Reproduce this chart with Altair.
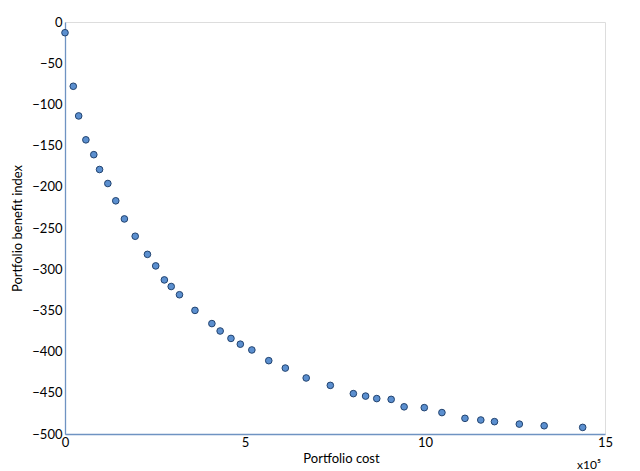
import altair as alt
import pandas as pd

cost = [0.0, 0.23, 0.38, 0.58, 0.80, 0.96, 1.19, 1.41, 1.65, 1.95,
        2.29, 2.52, 2.76, 2.95, 3.18, 3.61, 4.08, 4.31, 4.61, 4.87,
        5.19, 5.66, 6.12, 6.70, 7.37, 8.01, 8.35, 8.66, 9.06, 9.42,
        9.98, 10.47, 11.11, 11.55, 11.93, 12.62, 13.31, 14.38]
benefit = [-13, -78, -114, -143, -161, -179, -196, -217, -239, -260,
           -282, -296, -313, -321, -331, -350, -366, -375, -384, -391,
           -398, -411, -420, -432, -441, -451, -454, -457, -458, -467,
           -468, -474, -481, -483, -485, -488, -490, -492]
x_ticks = [0, 5, 10, 15]
y_ticks = [0, -50, -100, -150, -200, -250, -300, -350, -400, -450, -500]

df = pd.DataFrame({"cost": cost, "benefit": benefit})

FONT = "Lato"
AXIS_COLOR = "#6f93c2"

points = alt.Chart(df).mark_circle(
    size=44, color="#5b8fcf", stroke="#22436f", strokeWidth=1, opacity=1
).encode(
    x=alt.X("cost:Q", scale=alt.Scale(domain=[0, 15], nice=False),
            axis=alt.Axis(values=x_ticks, title="Portfolio cost", grid=False,
                          ticks=False, domainColor=AXIS_COLOR, domainWidth=1.3,
                          labelFont=FONT, labelFontSize=13, labelColor="#000",
                          labelPadding=2, titleFont=FONT, titleFontSize=13,
                          titleFontWeight="normal", titleColor="#000",
                          titlePadding=3, titleX=276, titleAlign="center",
                          labelFlush=False)),
    y=alt.Y("benefit:Q", scale=alt.Scale(domain=[-500, 0], nice=False),
            axis=alt.Axis(values=y_ticks, title="Portfolio benefit index",
                          grid=False, ticks=False, domainColor=AXIS_COLOR,
                          domainWidth=1.3, labelFont=FONT, labelFontSize=13,
                          labelColor="#000", labelPadding=3, titleFont=FONT,
                          titleFontSize=13, titleFontWeight="normal",
                          titleColor="#000", titlePadding=7,
                          labelFlush=False)),
)

mult = alt.Chart(pd.DataFrame({"t": ["x10\u2075"]})).mark_text(
    font=FONT, fontSize=12, color="#000", align="center", baseline="middle"
).encode(text="t:N", x=alt.value(524), y=alt.value(443))

chart = (points + mult).properties(
    width=540, height=412,
    padding={"left": 57, "top": 14, "right": 27, "bottom": 37},
    autosize=alt.AutoSizeParams(type="none"),
).configure_view(stroke=None).configure(background="white")

chart.save("out.html", embed_options={"renderer": "svg", "actions": False})
